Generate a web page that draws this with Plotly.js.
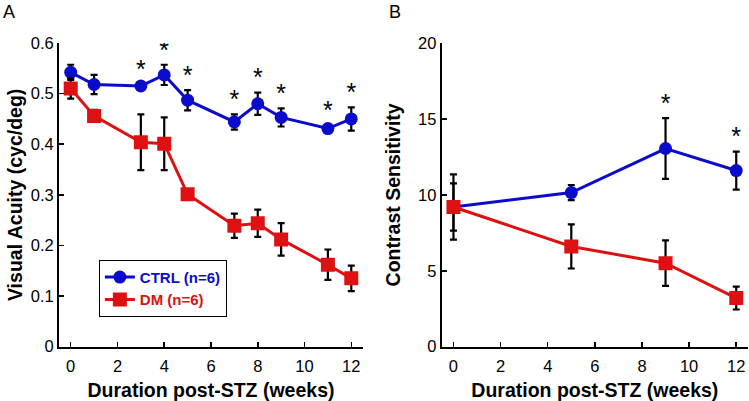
<!DOCTYPE html>
<html>
<head>
<meta charset="utf-8">
<script src="https://cdn.plot.ly/plotly-3.0.1.min.js"></script>
<style>
  body { margin: 0; background: #fff; }
  #plot { width: 749px; height: 401px; }
</style>
</head>
<body>
<div id="plot"></div>
<script>
// panel A: visual acuity (cyc/deg)
const weeksA = [0, 1, 3, 4, 5, 7, 8, 9, 11, 12];
const ctrlA = [0.542, 0.518, 0.515, 0.537, 0.487, 0.444, 0.480, 0.453, 0.431, 0.450];
const ctrlErrA = [0.015, 0.019, 0.004, 0.020, 0.020, 0.015, 0.022, 0.018, 0.006, 0.023];
const dmA = [0.510, 0.456, 0.404, 0.401, 0.301, 0.239, 0.244, 0.212, 0.162, 0.135];
const dmErrA = [0.020, 0.012, 0.055, 0.052, 0.004, 0.024, 0.027, 0.032, 0.030, 0.025];
const starWeeksA = [3, 4, 5, 7, 8, 9, 11, 12];

// panel B: contrast sensitivity
const weeksB = [0, 5, 9, 12];
const ctrlB = [9.2, 10.15, 13.05, 11.6];
const ctrlErrB = [1.55, 0.5, 2.0, 1.25];
const dmB = [9.2, 6.6, 5.5, 3.2];
const dmErrB = [2.15, 1.45, 1.5, 0.75];
const starWeeksB = [9, 12];

const BLUE = '#0b0bcc';
const RED = '#dd1111';
const FONT = 'Liberation Sans, Arial, sans-serif';

function series (x, y, err, color, symbol, name, xa, ya, showlegend) {
  return {
    type: 'scatter',
    mode: 'lines+markers',
    x, y, name,
    xaxis: xa, yaxis: ya,
    showlegend,
    line: { color, width: 3 },
    marker: { color, symbol, size: symbol === 'square' ? 14 : 13 },
    error_y: { type: 'data', array: err, visible: true, color: '#000', thickness: 2.2, width: 3.5 },
    hoverinfo: 'x+y'
  };
}

// asterisks sit above the upper end of the CTRL error bar
function stars (weeks, allWeeks, y, err, xa, ya) {
  const sy = weeks.map(w => {
    const i = allWeeks.indexOf(w);
    return y[i] + err[i];
  });
  return {
    type: 'scatter',
    mode: 'text',
    x: weeks,
    y: sy,
    text: weeks.map(() => '*'),
    textposition: 'top center',
    textfont: { family: FONT, size: 25, color: '#000' },
    xaxis: xa, yaxis: ya,
    showlegend: false,
    hoverinfo: 'skip'
  };
}

const data = [
  series(weeksA, ctrlA, ctrlErrA, BLUE, 'circle', '<span style="color:' + BLUE + '"><b>CTRL (n=6)</b></span>', 'x', 'y', true),
  series(weeksA, dmA, dmErrA, RED, 'square', '<span style="color:' + RED + '"><b>DM (n=6)</b></span>', 'x', 'y', true),
  stars(starWeeksA, weeksA, ctrlA, ctrlErrA, 'x', 'y'),
  series(weeksB, ctrlB, ctrlErrB, BLUE, 'circle', 'CTRL', 'x2', 'y2', false),
  series(weeksB, dmB, dmErrB, RED, 'square', 'DM', 'x2', 'y2', false),
  stars(starWeeksB, weeksB, ctrlB, ctrlErrB, 'x2', 'y2')
];

const axisBase = {
  showline: true,
  linecolor: '#000',
  linewidth: 2,
  ticks: 'inside',
  ticklen: 5,
  tickwidth: 1.5,
  tickcolor: '#000',
  showgrid: false,
  zeroline: false,
  tickfont: { family: FONT, size: 16.5, color: '#000' }
};

const titleFont = { family: FONT, size: 19.5, color: '#000', weight: 'bold' };

const layout = {
  width: 749,
  height: 401,
  margin: { l: 0, r: 0, t: 0, b: 0 },
  paper_bgcolor: '#fff',
  plot_bgcolor: '#fff',
  font: { family: FONT, color: '#000' },
  xaxis: Object.assign({}, axisBase, {
    domain: [0.0788, 0.4846],
    range: [-0.5, 12.5],
    tickvals: [0, 2, 4, 6, 8, 10, 12],
    ticklabelstandoff: 3,
    anchor: 'y',
    title: { text: '<b>Duration post-STZ (weeks)</b>', font: titleFont, standoff: 11 }
  }),
  yaxis: Object.assign({}, axisBase, {
    domain: [0.1354, 0.8928],
    range: [0, 0.6],
    dtick: 0.1,
    anchor: 'x',
    title: { text: '<b>Visual Acuity (cyc/deg)</b>', font: titleFont, standoff: 3 }
  }),
  xaxis2: Object.assign({}, axisBase, {
    domain: [0.5897, 0.9987],
    range: [-0.5, 12.5],
    tickvals: [0, 2, 4, 6, 8, 10, 12],
    ticklabelstandoff: 3,
    anchor: 'y2',
    title: { text: '<b>Duration post-STZ (weeks)</b>', font: titleFont, standoff: 11 }
  }),
  yaxis2: Object.assign({}, axisBase, {
    domain: [0.1354, 0.8928],
    range: [0, 20],
    dtick: 5,
    anchor: 'x2',
    title: { text: '<b>Contrast Sensitivity</b>', font: titleFont, standoff: 12 }
  }),
  legend: {
    x: 0.132,
    y: 0.352,
    xanchor: 'left',
    yanchor: 'top',
    bgcolor: '#fff',
    bordercolor: '#000',
    borderwidth: 1,
    font: { family: FONT, size: 15 },
    tracegroupgap: 0,
    itemwidth: 30
  },
  annotations: [
    { text: 'A', xref: 'paper', yref: 'paper', x: 0.002, y: 1, xanchor: 'left', yanchor: 'top', showarrow: false, font: { family: FONT, size: 18 } },
    { text: 'B', xref: 'paper', yref: 'paper', x: 0.517, y: 1, xanchor: 'left', yanchor: 'top', showarrow: false, font: { family: FONT, size: 18 } }
  ]
};

Plotly.newPlot('plot', data, layout, { displayModeBar: false, staticPlot: true });
</script>
</body>
</html>
